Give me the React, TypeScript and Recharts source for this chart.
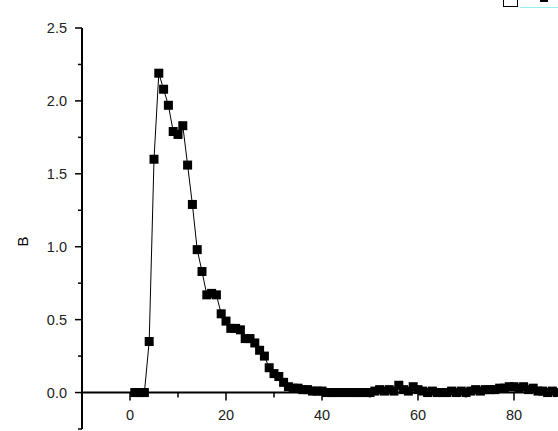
import React from 'react';
import { LineChart, Line, XAxis, YAxis, ReferenceLine } from 'recharts';

// sample index (x) and measured value B
const xValues: number[] = Array.from({ length: 89 }, (_, i) => i + 1);
const bValues: number[] = [
  0.0, 0.0, 0.0, 0.35, 1.6, 2.19, 2.08, 1.97, 1.79, 1.77,
  1.83, 1.56, 1.29, 0.98, 0.83, 0.67, 0.68, 0.67, 0.54, 0.49,
  0.44, 0.44, 0.43, 0.37, 0.37, 0.34, 0.29, 0.25, 0.17, 0.13,
  0.11, 0.07, 0.04, 0.03, 0.03, 0.02, 0.02, 0.01, 0.01, 0.01,
  0.0, 0.0, 0.0, 0.0, 0.0, 0.0, 0.0, 0.0, 0.0, 0.0,
  0.01, 0.02, 0.01, 0.02, 0.01, 0.05, 0.02, 0.01, 0.04, 0.02,
  0.01, 0.0, 0.01, 0.0, 0.0, 0.0, 0.01, 0.0, 0.01, 0.0,
  0.01, 0.02, 0.01, 0.02, 0.02, 0.02, 0.03, 0.03, 0.04, 0.04,
  0.03, 0.04, 0.02, 0.03, 0.01, 0.01, 0.0, 0.01, 0.0,
];

const xTicks = [0, 10, 20, 30, 40, 50, 60, 70, 80, 90];
const yTicks = [-0.25, 0, 0.25, 0.5, 0.75, 1, 1.25, 1.5, 1.75, 2, 2.25, 2.5];

const data = xValues.map((x, i) => ({ x, B: bValues[i] }));

const W = 570;
const H = 431;
const TOP = 28;
const XAXIS_H = 2;
const Y_MIN = -0.25;
const Y_MAX = 2.5;
const plotH = H - TOP - XAXIS_H;
// x axis crosses at y = 0, so shift its ticks up from the plot bottom
const zeroShift = (plotH * (0 - Y_MIN)) / (Y_MAX - Y_MIN);

const FONT = '"Liberation Sans", Arial, sans-serif';
const TEXT = '#222';

const Square = (props: any) => {
  const { cx, cy } = props;
  if (cx == null || cy == null) return null;
  return <rect x={cx - 4.5} y={cy - 4.5} width={9} height={9} fill="#000" />;
};

const YTick = (props: any) => {
  const { x, y, payload } = props;
  const v = payload.value;
  const major = Math.abs(v * 2 - Math.round(v * 2)) < 1e-6;
  return (
    <g>
      <line x1={x - (major ? 7 : 4)} y1={y} x2={x} y2={y} stroke="#000" strokeWidth={1.5} />
      {major && v >= 0 && (
        <text x={x - 15} y={y} dy={5} textAnchor="end" fontSize={14.5} fontFamily={FONT} fill={TEXT}>
          {v.toFixed(1)}
        </text>
      )}
    </g>
  );
};

const XTick = (props: any) => {
  const { x, y, payload } = props;
  const v = payload.value;
  const major = v % 20 === 0;
  const y0 = y - zeroShift;
  return (
    <g>
      <line x1={x} y1={y0} x2={x} y2={y0 + (major ? 8 : 5)} stroke="#000" strokeWidth={1.5} />
      {major && (
        <text x={x} y={y0 + 27} textAnchor="middle" fontSize={14.5} fontFamily={FONT} fill={TEXT}>
          {v}
        </text>
      )}
    </g>
  );
};

const YLabel = (props: any) => {
  const vb = props.viewBox || { x: 0, y: TOP, height: plotH };
  const cx = vb.x + 23;
  const cy = vb.y + vb.height / 2 + 13;
  return (
    <text x={cx} y={cy} transform={`rotate(-90 ${cx} ${cy})`} textAnchor="middle" dy={5} fontSize={15} fontFamily={FONT} fill="#000">
      B
    </text>
  );
};

export default function App() {
  return (
    <div style={{ position: 'fixed', left: 0, top: 0, width: 558, height: 431, overflow: 'hidden', background: '#fff' }}>
      <LineChart width={W} height={H} data={data} margin={{ top: TOP, right: 8, left: 0, bottom: 0 }}>
        <XAxis
          dataKey="x"
          type="number"
          domain={[-10, 90]}
          ticks={xTicks}
          axisLine={false}
          tickLine={false}
          tickSize={0}
          tickMargin={0}
          height={XAXIS_H}
          tick={<XTick />}
          interval={0}
        />
        <YAxis
          type="number"
          domain={[Y_MIN, Y_MAX]}
          ticks={yTicks}
          width={82}
          axisLine={{ stroke: '#000', strokeWidth: 2 }}
          tickLine={false}
          tickSize={0}
          tickMargin={0}
          tick={<YTick />}
          interval={0}
          allowDataOverflow
          label={<YLabel />}
        />
        <ReferenceLine y={0} stroke="#000" strokeWidth={2} />
        <Line
          dataKey="B"
          stroke="#000"
          strokeWidth={1}
          dot={<Square />}
          activeDot={false}
          isAnimationActive={false}
        />
      </LineChart>
      <div style={{ position: 'absolute', left: 503, top: -2, width: 15, height: 9, border: '1px solid #000', boxSizing: 'border-box' }} />
      <div style={{ position: 'absolute', left: 540, top: 0, width: 8, height: 2, background: '#000' }} />
      <div style={{ position: 'absolute', left: 520, top: 7, width: 38, height: 1, background: '#9ee' }} />
    </div>
  );
}
